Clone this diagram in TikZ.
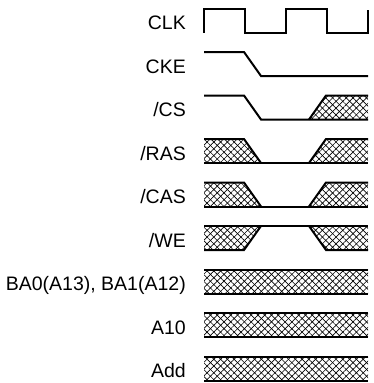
\documentclass[tikz,border=0pt]{standalone}
\usepackage{fontspec}
\setmainfont{Liberation Sans}
\usetikzlibrary{patterns.meta}
\begin{document}
\begin{tikzpicture}[x=1pt, y=-1pt, line join=miter, font=\fontsize{19.5}{23}\selectfont,
    lbl/.style={anchor=base east, inner sep=0pt},
    sig/.style={line width=2pt},
    xhatch/.style={pattern={Lines[angle=45,distance=4.8pt,line width=.65pt]},
        postaction={pattern={Lines[angle=-45,distance=4.8pt,line width=.65pt]}}}]
    \def\xa{204} % Bắt đầu
    \def\xb{244}\def\xc{261} % cạnh thứ nhất
    \def\xd{309}\def\xe{326} % cạnh thứ hai
    \def\xf{368} % kết thúc
    \def\h{24}
    \useasboundingbox (0,0) rectangle (374,383);
    \foreach \name/\txt [count=\i from 0] in {clk/CLK, cke/CKE, cs/{/CS}, ras/{/RAS}, cas/{/CAS}, we/{/WE}, ba/{BA0(A13), BA1(A12)}, aten/A10, add/Add}
        \node[lbl] (\name) at (186,43.5*\i+29.5) {\txt};
    % CLK
    \begin{scope}[shift={(0,8.5)}]
        \draw[sig] (\xa,\h) -- (\xa,0) -- (245,0) -- (245,\h) -- (286,\h) -- (286,0) -- (327,0) -- (327,\h) -- (\xf,\h) -- (\xf,1.5);
    \end{scope}
    % CKE
    \begin{scope}[shift={(0,52)}]
        \draw[sig] (\xa,0) -- (\xb,0) -- (\xc,\h) -- (\xf,\h);
    \end{scope}
    % /CS
    \begin{scope}[shift={(0,95.5)}]
        \fill[xhatch] (\xd,\h) -- (\xe,0) -- (\xf,0) -- (\xf,\h) -- cycle;
        \draw[sig] (\xa,0) -- (\xb,0) -- (\xc,\h) -- (\xf,\h);
        \draw[sig] (\xd,\h) -- (\xe,0) -- (\xf,0);
    \end{scope}
    % /RAS, /CAS
    \foreach \r in {139,182.5}{
    \begin{scope}[shift={(0,\r)}]
        \fill[xhatch] (\xa,0) -- (\xb,0) -- (\xc,\h) -- (\xa,\h) -- cycle;
        \fill[xhatch] (\xd,\h) -- (\xe,0) -- (\xf,0) -- (\xf,\h) -- cycle;
        \draw[sig] (\xa,0) -- (\xb,0) -- (\xc,\h);
        \draw[sig] (\xa,\h) -- (\xf,\h);
        \draw[sig] (\xd,\h) -- (\xe,0) -- (\xf,0);
    \end{scope}}
    % /WE
    \begin{scope}[shift={(0,226)}]
        \fill[xhatch] (\xa,0) -- (\xc,0) -- (\xb,\h) -- (\xa,\h) -- cycle;
        \fill[xhatch] (\xd,0) -- (\xf,0) -- (\xf,\h) -- (\xe,\h) -- cycle;
        \draw[sig] (\xa,0) -- (\xf,0);
        \draw[sig] (\xa,\h) -- (\xb,\h) -- (\xc,0);
        \draw[sig] (\xd,0) -- (\xe,\h) -- (\xf,\h);
    \end{scope}
    % BA, A10, Add
    \foreach \r in {269.5,313,356.5}{
    \begin{scope}[shift={(0,\r)}]
        \fill[xhatch] (\xa,0) rectangle (\xf,\h);
        \draw[sig] (\xa,0) -- (\xf,0) (\xa,\h) -- (\xf,\h);
    \end{scope}}
\end{tikzpicture}
\end{document}
